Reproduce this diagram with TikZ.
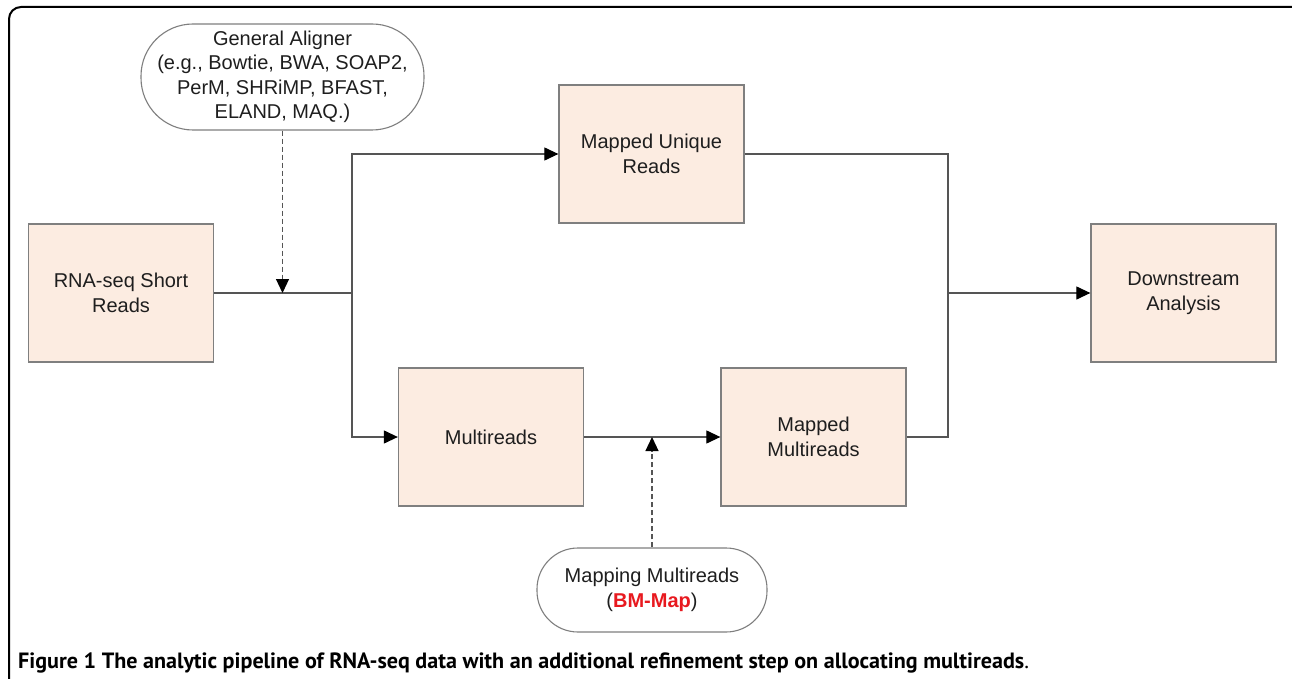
\documentclass[tikz,border=0pt]{standalone}
\usepackage{fontspec}
\setmainfont{Liberation Sans}
\newfontfamily\capfont{PT Sans}
\usetikzlibrary{arrows.meta}
\definecolor{boxfill}{HTML}{FCECE1}
\definecolor{boxline}{HTML}{7F7F7F}
\definecolor{linecol}{HTML}{555555}
\definecolor{txt}{HTML}{1E1E1E}
\definecolor{bmred}{HTML}{E8191F}
\begin{document}
\begin{tikzpicture}[x=1pt,y=-1pt,
  font=\fontsize{20}{24.5}\selectfont,
  stepbox/.style={draw=boxline, line width=1.3pt, fill=boxfill, text=txt, align=center,
    minimum width=185pt, minimum height=138pt, inner sep=0pt},
  pill/.style={draw=boxline, line width=1.1pt, rectangle, text=txt, align=center, inner sep=0pt},
  conn/.style={draw=linecol, line width=1.2pt},
  arr/.style={conn, -{Triangle[length=14pt,width=13pt,color=black,fill=black]}},
  darr/.style={arr, dash pattern=on 5pt off 3pt}
]
\useasboundingbox (0,0) rectangle (1292,679);
\fill[white] (0,0) rectangle (1292,679);
\begin{scope}
\clip (0,0) rectangle (1292,679);
\draw[line width=2pt, rounded corners=12pt] (9,7) rectangle (1310,700);
\end{scope}

\node[stepbox] (rna) at (121,293) {RNA-seq Short\\Reads};
\node[stepbox] (mur) at (651.5,154) {Mapped Unique\\Reads};
\node[stepbox] (multi) at (491,437) {Multireads};
\node[stepbox] (mm) at (813.5,437) {Mapped\\Multireads};
\node[stepbox] (down) at (1183.5,293) {Downstream\\Analysis};

\node[pill, rounded corners=52pt, minimum width=283pt, minimum height=106pt] (aligner) at (282.5,77)
  {General Aligner\\(e.g., Bowtie, BWA, SOAP2,\\PerM, SHRiMP, BFAST,\\ELAND, MAQ.)};
\node[pill, rounded corners=41pt, minimum width=230pt, minimum height=84pt] (bmmap) at (652,590)
  {Mapping Multireads\\(\textcolor{bmred}{\bfseries BM-Map})};

\coordinate (j1) at (352,293);
\coordinate (j2) at (948,293);

\draw[conn] (rna.east) -- (j1);
\draw[arr] (j1) |- (mur.west);
\draw[arr] (j1) |- (multi.west);
\draw[darr] (aligner.south) -- (aligner.south |- rna.east);
\draw[arr] (multi.east) -- (mm.west);
\draw[darr] (bmmap.north) -- (bmmap.north |- multi.east);
\draw[conn] (mur.east) -| (j2);
\draw[conn] (mm.east) -| (j2);
\draw[arr] (j2) -- (down.west);

\node[anchor=base west, inner sep=0pt, font=\capfont\fontsize{22.1}{25}\selectfont] (cap) at (18,668)
  {\textbf{Figure 1 The analytic pipeline of RNA-seq data with an additional refinement step on allocating multireads}.};
\end{tikzpicture}
\end{document}
